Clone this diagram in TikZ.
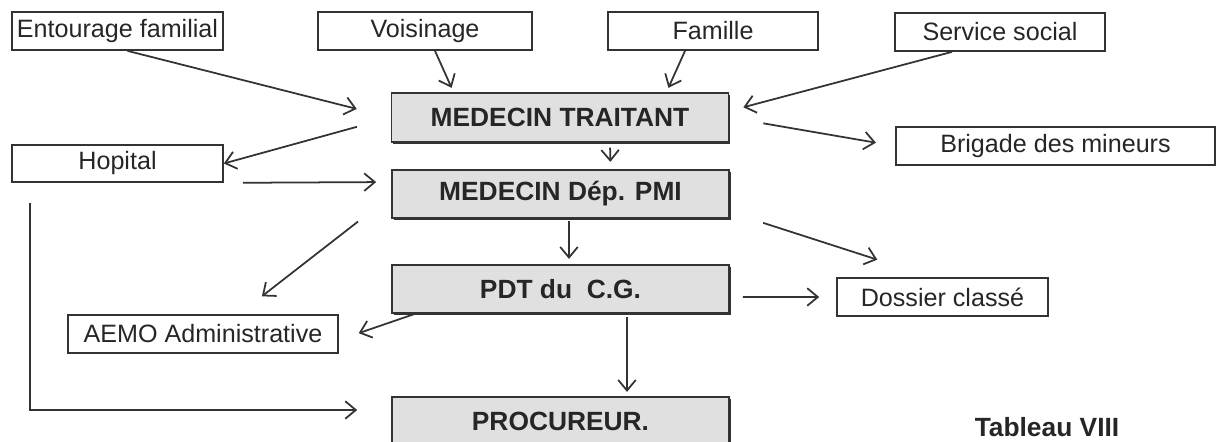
\documentclass[tikz,border=0pt]{standalone}
\usepackage{fontspec}
\setmainfont{Liberation Sans}
\usetikzlibrary{arrows,arrows.meta,shadows}

\begin{document}
\begin{tikzpicture}[x=0.02cm,y=-0.02cm]
        \clip (0,0) rectangle (1218,442);
        \tikzstyle{every node} = [draw=black!80, line width=1pt, text=black!85, inner sep=0pt, font=\fontsize{14.3pt}{17pt}\selectfont];
        \tikzstyle{small} = [minimum height=0.76cm];
        \tikzstyle{main} = [minimum width=6.74cm, minimum height=0.97cm, fill=black!12, font=\fontsize{15pt}{18pt}\selectfont\bfseries,
                drop shadow={shadow xshift=0.035cm, shadow yshift=-0.04cm, fill=black!80, opacity=1}];
        \tikzstyle{flow} = [draw=black!80, line width=1pt, -{Straight Barb[length=6pt,width=10pt,line width=1pt]}];
        % sources
        \node[small, minimum width=4.22cm](ent) at (117.5,31) {Entourage familial};
        \node[small, minimum width=4.28cm](vois) at (425,31) {Voisinage};
        \node[small, minimum width=4.2cm](fam) at (713,31) {Famille};
        \node[small, minimum width=4.2cm](serv) at (1000,32) {Service social};
        % main chain
        \node[main](mt) at (560,117.5) {MEDECIN TRAITANT};
        \node[main](pmi) at (560.5,194) {MEDECIN D\'ep. PMI};
        \node[main](pdt) at (560.5,289) {PDT du\ \ C.G.};
        \node[main](proc) at (560.5,421) {PROCUREUR.};
        % side boxes
        \node[small, minimum width=4.22cm, minimum height=0.74cm](hop) at (117.5,163.5) {Hopital};
        \node[small, minimum width=6.38cm](brig) at (1055.5,146) {Brigade des\ mineurs};
        \node[small, minimum width=5.4cm](aemo) at (203,334) {AEMO Administrative};
        \node[small, minimum width=4.22cm](dos) at (942.5,297) {Dossier class\'e};
        \node[draw=none, font=\fontsize{15pt}{18pt}\selectfont\bfseries](tab) at (1047,427) {Tableau VIII};
        \coordinate(hopdown) at ([xshift=0.38cm, yshift=-0.4cm]hop.south west);
        % connectors
        \path[flow, shorten >=0.7cm] ([xshift=0.2cm]ent.south) -- (mt.west);
        \path[flow, shorten >=0.1cm] ([xshift=0.2cm]vois.south) -- ([xshift=1.26cm]mt.north west);
        \path[flow, shorten >=0.1cm] ([xshift=-0.56cm]fam.south) -- ([xshift=-1.26cm]mt.north east);
        \path[flow, shorten >=0.29cm] ([xshift=-0.96cm]serv.south) -- ([yshift=0.13cm]mt.east);
        \path[flow, shorten <=0.7cm] (mt.west) -- (hop.east);
        \path[flow, shorten <=0.69cm, shorten >=0.39cm] (mt.east) -- (brig.west);
        \path[flow, shorten <=0.1cm, shorten >=0.14cm] ([xshift=1cm]mt.south) -- ([xshift=1cm]pmi.north);
        \path[flow, shorten <=0.38cm, shorten >=0.3cm] (hop.south east) -- ([yshift=0.24cm]pmi.west);
        \path[flow, shorten >=0.68cm] (hopdown) |- ([yshift=0.22cm]proc.west);
        \path[flow, shorten <=0.08cm, shorten >=0.58cm] ([xshift=-0.6cm]pmi.south west) -- ([xshift=0.72cm]aemo.north);
        \path[flow, shorten <=0.04cm, shorten >=0.1cm] ([xshift=0.17cm]pmi.south) -- ([xshift=0.17cm]pdt.north);
        \path[flow, shorten <=0.7cm, shorten >=1.14cm] ([yshift=0.14cm]pmi.south east) -- ([xshift=-0.22cm]dos.north);
        \path[flow, shorten >=0.42cm] ([xshift=0.46cm]pdt.south west) -- ([yshift=-0.12cm]aemo.east);
        \path[flow, shorten <=0.26cm, shorten >=0.34cm] ([yshift=-0.16cm]pdt.east) -- (dos.west);
        \path[flow, shorten <=0.06cm, shorten >=0.08cm] ([xshift=1.33cm]pdt.south) -- ([xshift=1.33cm]proc.north);
\end{tikzpicture}
\end{document}
